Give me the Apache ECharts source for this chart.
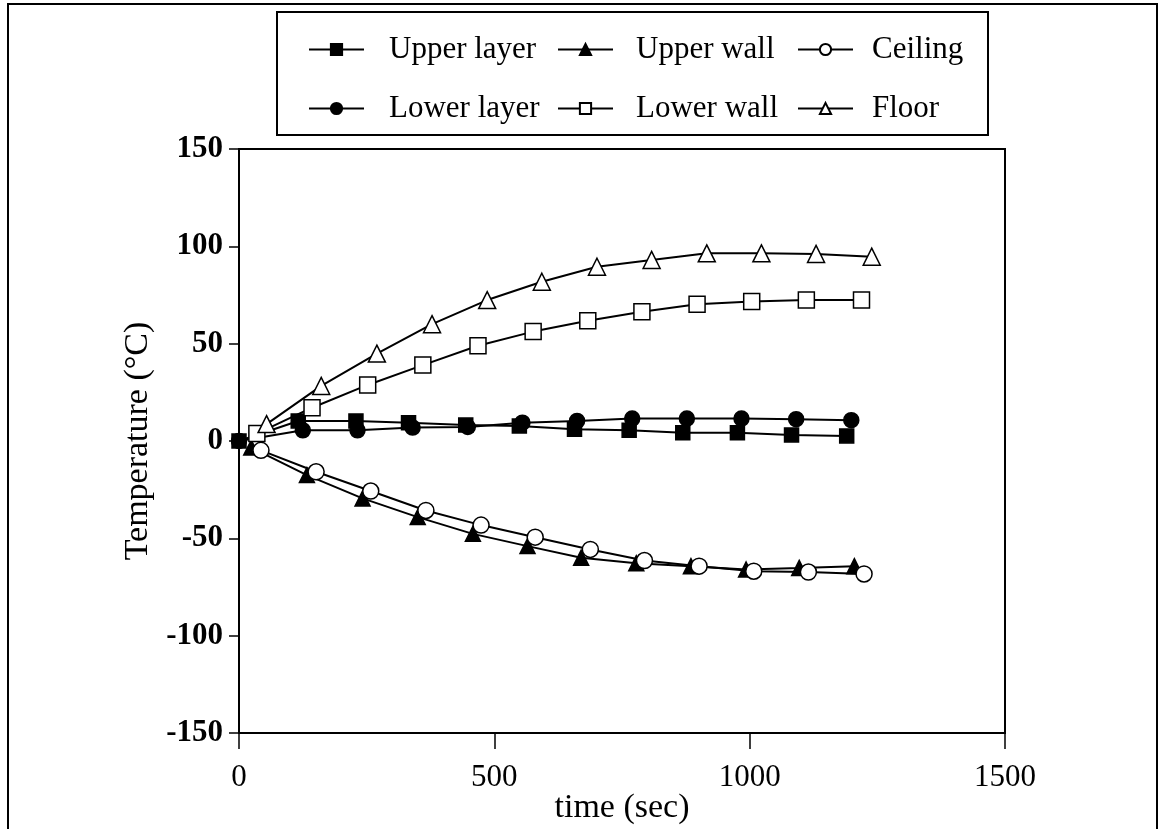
<!DOCTYPE html>
<html>
<head>
<meta charset="utf-8">
<script src="https://cdn.jsdelivr.net/npm/echarts@6/dist/echarts.min.js"></script>
<style>
  html, body { margin: 0; padding: 0; background: #fff; }
  #chart { width: 1160px; height: 829px; }
</style>
</head>
<body>
<div id="chart"></div>
<script>
// series names, as in the legend
const seriesNames = ['Upper layer', 'Upper wall', 'Ceiling', 'Lower layer', 'Lower wall', 'Floor'];

// time (sec) / temperature (°C)
const upperLayerTime = [0, 116, 229, 332, 444, 549, 657, 764, 869, 976, 1082, 1190];
const upperLayerTemp = [0, 10.3, 10.3, 9.4, 8.2, 7.7, 6.0, 5.5, 4.3, 4.3, 3.1, 2.6];

const lowerLayerTime = [0, 125, 232, 340, 448, 555, 662, 770, 877, 984, 1091, 1199];
const lowerLayerTemp = [0, 5.5, 5.5, 6.9, 7.2, 9.4, 10.3, 11.5, 11.5, 11.5, 11.2, 10.7];

const upperWallTime = [24, 133, 242, 350, 458, 565, 670, 778, 885, 993, 1097, 1205];
const upperWallTemp = [-3.4, -17.5, -29.5, -39.1, -47.7, -54.0, -60.0, -62.8, -64.3, -66.0, -65.2, -64.3];

const lowerWallTime = [35, 143, 252, 360, 468, 576, 683, 789, 897, 1004, 1111, 1219];
const lowerWallTemp = [3.8, 17.1, 28.8, 39.0, 48.9, 56.2, 61.8, 66.4, 70.3, 71.7, 72.4, 72.4];

const ceilingTime = [43, 151, 258, 366, 474, 580, 688, 794, 901, 1008, 1115, 1224];
const ceilingTemp = [-4.8, -15.8, -25.7, -35.7, -43.2, -49.4, -55.7, -61.4, -64.3, -66.9, -67.3, -68.3];

const floorTime = [54, 161, 270, 378, 486, 593, 701, 808, 916, 1023, 1130, 1239];
const floorTemp = [8.7, 28.3, 44.9, 60.0, 72.4, 81.8, 89.5, 93.0, 96.4, 96.4, 96.1, 94.7];

const pairs = (xs, ys) => xs.map((x, i) => [x, ys[i]]);

const serif = 'Liberation Serif';

// marker look for each series: shape, filled or hollow, size
const markerStyle = {
  'Upper layer': { symbol: 'rect', fill: '#000', size: 14 },
  'Lower layer': { symbol: 'circle', fill: '#000', size: 15 },
  'Upper wall': { symbol: 'triangle', fill: '#000', size: 15 },
  'Lower wall': { symbol: 'rect', fill: '#fff', size: 16 },
  'Ceiling': { symbol: 'circle', fill: '#fff', size: 16 },
  'Floor': { symbol: 'triangle', fill: '#fff', size: 17 }
};

const seriesData = {
  'Upper layer': pairs(upperLayerTime, upperLayerTemp),
  'Lower layer': pairs(lowerLayerTime, lowerLayerTemp),
  'Upper wall': pairs(upperWallTime, upperWallTemp),
  'Lower wall': pairs(lowerWallTime, lowerWallTemp),
  'Ceiling': pairs(ceilingTime, ceilingTemp),
  'Floor': pairs(floorTime, floorTemp)
};

// legend slots inside the framed box (2 rows x 3 columns)
const legendCols = [303, 552, 792];
const legendTextPad = [20, 18, 14];
const legendRows = [29, 88];

const legends = seriesNames.map((name, i) => ({
  data: [name],
  left: legendCols[i % 3],
  top: legendRows[Math.floor(i / 3)],
  itemWidth: 55,
  itemHeight: 14,
  selectedMode: false,
  textStyle: {
    fontFamily: serif,
    fontSize: 31,
    color: '#000',
    padding: [0, 0, 0, legendTextPad[i % 3]]
  }
}));

const chart = echarts.init(document.getElementById('chart'), null, { renderer: 'canvas' });

chart.setOption({
  animation: false,
  backgroundColor: '#fff',
  graphic: [
    // outer frame of the scanned figure
    { type: 'rect', shape: { x: 8, y: 4, width: 1149, height: 840 }, style: { fill: 'none', stroke: '#000', lineWidth: 2 } },
    // legend frame
    { type: 'rect', shape: { x: 277, y: 12, width: 711, height: 123 }, style: { fill: '#fff', stroke: '#000', lineWidth: 2 }, z: -1 }
  ],
  legend: legends,
  grid: {
    left: 239,
    top: 149,
    width: 766,
    height: 584,
    outerBoundsMode: 'none',
    containLabel: false,
    show: true,
    borderColor: '#000',
    borderWidth: 2
  },
  xAxis: {
    type: 'value',
    min: 0,
    max: 1500,
    interval: 500,
    name: 'time (sec)',
    nameLocation: 'middle',
    nameGap: 58,
    nameMoveOverlap: false,
    nameTextStyle: { fontFamily: serif, fontSize: 34, color: '#000' },
    axisLine: { onZero: false, lineStyle: { color: '#000', width: 2 } },
    axisTick: { inside: false, length: 16, lineStyle: { color: '#000', width: 1.5 } },
    axisLabel: { margin: 29, fontFamily: serif, fontSize: 31, color: '#000', formatter: (v) => String(v) },
    splitLine: { show: false }
  },
  yAxis: {
    type: 'value',
    min: -150,
    max: 150,
    interval: 50,
    name: 'Temperature (°C)',
    nameLocation: 'middle',
    nameGap: 64,
    nameTextStyle: { fontFamily: serif, fontSize: 34, color: '#000' },
    axisLine: { onZero: false, lineStyle: { color: '#000', width: 2 } },
    axisTick: { inside: false, length: 10, lineStyle: { color: '#000', width: 1.5 } },
    axisLabel: { margin: 16, fontFamily: serif, fontWeight: 'bold', fontSize: 31, color: '#000', formatter: (v) => String(v) },
    splitLine: { show: false }
  },
  series: seriesNames.map((name) => {
    const m = markerStyle[name];
    return {
      name: name,
      type: 'line',
      data: seriesData[name],
      symbol: m.symbol,
      symbolSize: m.size,
      showAllSymbol: true,
      lineStyle: { color: '#000', width: 2 },
      itemStyle: { color: m.fill, borderColor: '#000', borderWidth: 1.5 },
      z: m.fill === '#fff' ? 3 : 2
    };
  })
});
</script>
</body>
</html>
